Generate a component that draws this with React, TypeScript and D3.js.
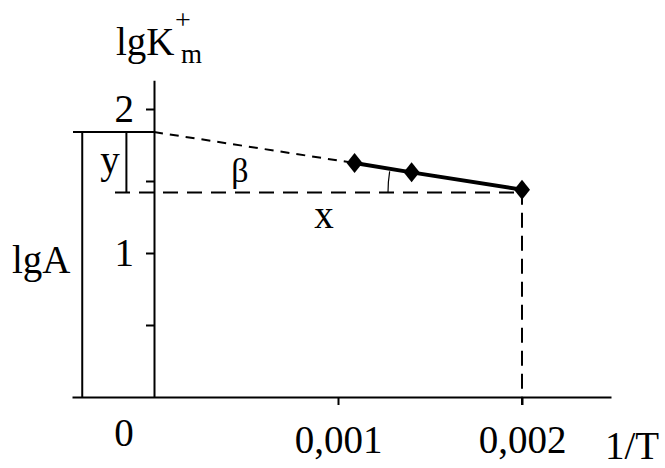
import * as d3 from "d3";
import React, { useRef, useEffect } from "react";

// measured points (1/T, lgK)
const invT = [0.00109, 0.0014, 0.002];
const lgK = [1.625, 1.56, 1.44];

// construction values
const lgA = 1.84;
const yRef = 1.42;
const boxLeft = -0.00039;
const yMark = -0.00015;

const yTicks = [0.5, 1, 1.5, 2];
const yTickLabels = ["", "1", "", "2"];
const xTicks = [0.001, 0.002];
const xTickLabels = ["0,001", "0,002"];

const width = 665,
  height = 468;
const FONT = "'Liberation Serif', 'Times New Roman', serif";

function App() {
  const ref = useRef(null);

  useEffect(() => {
    const svg = d3.select(ref.current);
    svg.selectAll("*").remove();

    const x = d3.scaleLinear().domain([0, 0.002]).range([154, 522]);
    const y = d3.scaleLinear().domain([0, 2]).range([397, 109]);

    const black = "#000";

    // x axis
    const xAxis = svg
      .append("g")
      .attr("transform", `translate(0,${y(0)})`)
      .call(
        d3
          .axisBottom(x.copy().domain([x.invert(72), x.invert(611)]).range([72, 611]))
          .tickValues(xTicks)
          .tickSize(8)
          .tickSizeOuter(0)
          .tickPadding(20)
          .tickFormat((d, i) => xTickLabels[i])
      );
    xAxis.attr("font-family", null).attr("font-size", 39);
    xAxis.selectAll("path,line").attr("stroke", black).attr("stroke-width", 2);
    xAxis.selectAll("text").attr("fill", black).style("font-family", FONT);

    // y axis
    const yAxis = svg
      .append("g")
      .attr("transform", `translate(${x(0)},0)`)
      .call(
        d3
          .axisLeft(y.copy().domain([0, 2.2]).range([y(0), y(2.2)]))
          .tickValues(yTicks)
          .tickSize(8)
          .tickSizeOuter(0)
          .tickPadding(12)
          .tickFormat((d, i) => yTickLabels[i])
      );
    yAxis.attr("font-family", null).attr("font-size", 39);
    yAxis.selectAll("path,line").attr("stroke", black).attr("stroke-width", 2);
    yAxis.selectAll("text").attr("fill", black).style("font-family", FONT);

    const seg = (x1, y1, x2, y2, dash) =>
      svg
        .append("line")
        .attr("x1", x(x1))
        .attr("y1", y(y1))
        .attr("x2", x(x2))
        .attr("y2", y(y2))
        .attr("stroke", black)
        .attr("stroke-width", 2)
        .attr("stroke-dasharray", dash || null);

    // lgA box
    seg(x.invert(73), lgA, 0, lgA);
    seg(boxLeft, lgA, boxLeft, 0);
    seg(yMark, lgA, yMark, yRef);

    // dashed construction lines
    seg(0, lgA, invT[0], lgK[0], "9,7");
    seg(x.invert(115), yRef, invT[2], yRef, "15,9");
    seg(invT[2], lgK[2], invT[2], y.invert(405), "15,8");

    // angle arc
    const r = x(invT[2]) - 388;
    const slope = Math.atan2(y(lgK[2]) - y(lgK[0]), x(invT[2]) - x(invT[0]));
    const cx = x(invT[2]),
      cy = y(yRef);
    svg
      .append("path")
      .attr(
        "d",
        `M${cx - r},${cy} A${r},${r} 0 0 1 ${cx - r * Math.cos(slope)},${cy - r * Math.sin(slope)}`
      )
      .attr("fill", "none")
      .attr("stroke", black)
      .attr("stroke-width", 1.2);

    // data line
    const pts = invT.map((v, i) => [v, lgK[i]]);
    svg
      .append("path")
      .datum(pts)
      .attr(
        "d",
        d3
          .line()
          .x((d) => x(d[0]))
          .y((d) => y(d[1]))
      )
      .attr("fill", "none")
      .attr("stroke", black)
      .attr("stroke-width", 4);

    svg
      .selectAll("path.mark")
      .data(pts)
      .enter()
      .append("path")
      .attr("class", "mark")
      .attr("d", "M0,-10L8,0L0,10L-8,0Z")
      .attr("transform", (d) => `translate(${x(d[0])},${y(d[1])})`)
      .attr("fill", black);

    // texts
    const txt = (s, tx, ty, size, anchor) =>
      svg
        .append("text")
        .attr("x", tx)
        .attr("y", ty)
        .attr("font-size", size)
        .attr("text-anchor", anchor || "start")
        .attr("fill", black)
        .style("font-family", FONT)
        .text(s);

    txt("0", x(0) - 30, 446, 39, "middle");
    txt("1/T", 605, 459, 39);
    txt("lgA", 12, 273, 39);
    txt("y", 110, 173, 39, "middle");
    txt("β", 240, 182, 34, "middle");
    txt("x", 324, 228, 39, "middle");
    txt("lgK", 116, 55, 39);
    txt("+", 175, 29, 28);
    txt("m", 181, 63, 27);
  }, []);

  return (
    <svg
      ref={ref}
      width={width}
      height={height}
      style={{ position: "absolute", left: 0, top: 0, background: "#fff" }}
    ></svg>
  );
}

export default App;
